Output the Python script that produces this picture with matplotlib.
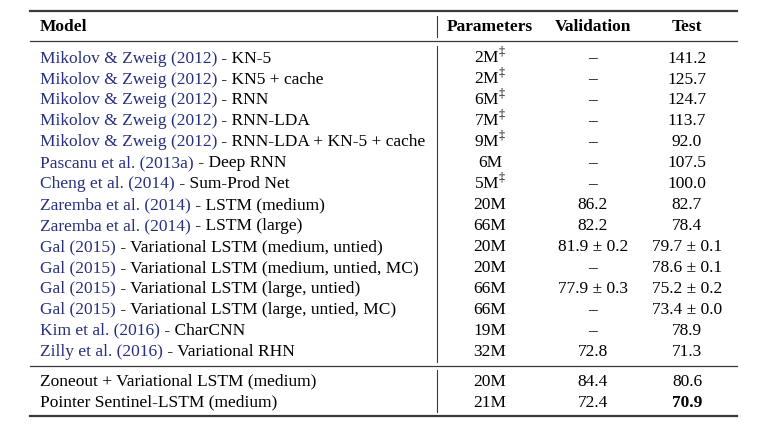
import matplotlib
matplotlib.use("Agg")
import matplotlib.pyplot as plt

# table contents
headers = ["Model", "Parameters", "Validation", "Test"]

citations = [
    "Mikolov & Zweig (2012)", "Mikolov & Zweig (2012)", "Mikolov & Zweig (2012)",
    "Mikolov & Zweig (2012)", "Mikolov & Zweig (2012)", "Pascanu et al. (2013a)",
    "Cheng et al. (2014)", "Zaremba et al. (2014)", "Zaremba et al. (2014)",
    "Gal (2015)", "Gal (2015)", "Gal (2015)", "Gal (2015)",
    "Kim et al. (2016)", "Zilly et al. (2016)",
]
variants = [
    " - KN-5", " - KN5 + cache", " - RNN", " - RNN-LDA", " - RNN-LDA + KN-5 + cache",
    " - Deep RNN", " - Sum-Prod Net", " - LSTM (medium)", " - LSTM (large)",
    " - Variational LSTM (medium, untied)", " - Variational LSTM (medium, untied, MC)",
    " - Variational LSTM (large, untied)", " - Variational LSTM (large, untied, MC)",
    " - CharCNN", " - Variational RHN",
]
params = ["2M", "2M", "6M", "7M", "9M", "6M", "5M", "20M", "66M",
          "20M", "20M", "66M", "66M", "19M", "32M"]
dagger = [True, True, True, True, True, False, True, False, False,
          False, False, False, False, False, False]
validation = ["–", "–", "–", "–", "–", "–", "–", "86.2", "82.2",
              "81.9 ± 0.2", "–", "77.9 ± 0.3", "–", "–", "72.8"]
test = ["141.2", "125.7", "124.7", "113.7", "92.0", "107.5", "100.0", "82.7", "78.4",
        "79.7 ± 0.1", "78.6 ± 0.1", "75.2 ± 0.2", "73.4 ± 0.0", "78.9", "71.3"]

own_models = ["Zoneout + Variational LSTM (medium)", "Pointer Sentinel-LSTM (medium)"]
own_params = ["20M", "21M"]
own_validation = ["84.4", "72.4"]
own_test = ["80.6", "70.9"]

plt.rcParams["font.family"] = ["Liberation Serif", "DejaVu Serif"]
plt.rcParams["mathtext.fontset"] = "custom"
plt.rcParams["mathtext.rm"] = "Liberation Serif"

W, H = 766, 429
fig = plt.figure(figsize=(W / 100, H / 100), dpi=100)
ax = fig.add_axes([0, 0, 1, 1])
ax.set_xlim(0, W)
ax.set_ylim(H, 0)
ax.axis("off")

fs = 12.5
blue = "#27307f"
rule = "#3a3a3a"
x_model, x_par, x_val, x_test = 40, 490, 593, 687
x_left, x_right, x_vline = 30, 737, 437
base = 5.6  # row centre -> text baseline

# rules
ax.plot([x_left, x_right], [11, 11], color=rule, lw=1.6)
ax.plot([x_left, x_right], [40.5, 40.5], color=rule, lw=0.9)
ax.plot([x_left, x_right], [365.5, 365.5], color=rule, lw=0.9)
ax.plot([x_left, x_right], [415.5, 415.5], color=rule, lw=1.6)
ax.plot([x_vline, x_vline], [16, 37], color=rule, lw=0.8)
ax.plot([x_vline, x_vline], [46, 362], color=rule, lw=0.8)
ax.plot([x_vline, x_vline], [370, 412], color=rule, lw=0.8)

# header
y_head = 25.5 + base
ax.text(x_model, y_head, headers[0], fontsize=fs, fontweight="bold", va="baseline")
for x, h in zip([x_par, x_val, x_test], headers[1:]):
    ax.text(x, y_head, h, fontsize=fs, fontweight="bold", va="baseline", ha="center")

y0, pitch = 57, 20.93
for i in range(len(citations)):
    y = y0 + i * pitch + base
    t = ax.text(x_model, y, citations[i], fontsize=fs, color=blue, va="baseline")
    ax.annotate(variants[i], xy=(1, 0), xycoords=t, va="bottom", fontsize=fs, color="black")
    p = params[i] + (r"$^{\ddag}$" if dagger[i] else "")
    ax.text(x_par, y, p, fontsize=fs, va="baseline", ha="center")
    ax.text(x_val, y, validation[i], fontsize=fs, va="baseline", ha="center")
    ax.text(x_test, y, test[i], fontsize=fs, va="baseline", ha="center")

for j in range(len(own_models)):
    y = 380 + j * pitch + base
    ax.text(x_model, y, own_models[j], fontsize=fs, va="baseline")
    ax.text(x_par, y, own_params[j], fontsize=fs, va="baseline", ha="center")
    ax.text(x_val, y, own_validation[j], fontsize=fs, va="baseline", ha="center")
    best = own_test[j] == min(own_test)
    ax.text(x_test, y, own_test[j], fontsize=fs, va="baseline", ha="center",
            fontweight="bold" if best else "normal")

fig.savefig("out.png", dpi=100)
